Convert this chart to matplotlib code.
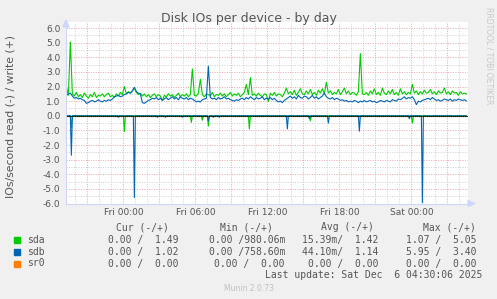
import numpy as np
import pandas as pd
import matplotlib
matplotlib.use('Agg')
import matplotlib.pyplot as plt
import matplotlib.dates as mdates
from matplotlib.ticker import MultipleLocator, FuncFormatter
from matplotlib.patches import Rectangle, Polygon

# write rates (IOs/s), one value every 10 minutes starting Thu 19:15
sda_write = [
    2.0, 1.4, 5.05, 1.5, 1.35, 1.6, 1.3, 1.45, 1.25, 1.55,
    1.35, 1.2, 1.45, 1.3, 1.6, 1.25, 1.4, 1.35, 1.5, 1.3,
    1.45, 1.55, 1.3, 1.4, 1.25, 1.5, 1.35, 1.6, 1.45, 2.0,
    1.5, 1.65, 1.55, 1.7, 1.9, 1.6, 1.45, 1.55, 1.35, 1.5,
    1.3, 1.45, 1.25, 1.4, 1.5, 1.3, 1.45, 1.35, 1.05, 1.4,
    1.3, 1.5, 1.35, 1.45, 1.25, 1.4, 1.55, 1.3, 1.45, 1.35,
    1.5, 1.3, 1.45, 3.2, 1.4, 1.35, 1.55, 2.5, 1.45, 1.3,
    1.5, 1.45, 1.35, 1.6, 1.3, 1.45, 1.4, 1.55, 1.35, 1.5,
    1.3, 1.45, 1.6, 1.35, 1.5, 1.4, 1.55, 1.3, 1.45, 1.6,
    2.15, 1.45, 2.6, 1.4, 1.5, 1.35, 1.55, 1.4, 1.3, 1.5,
    1.45, 0.98, 1.55, 1.4, 1.6, 1.35, 1.5, 1.45, 1.3, 1.55,
    1.9, 1.5, 1.65, 1.45, 1.75, 1.4, 1.6, 1.85, 1.5, 1.45,
    1.7, 1.5, 1.8, 1.45, 1.6, 1.4, 1.75, 1.55, 1.85, 1.5,
    2.3, 1.55, 1.7, 1.45, 1.6, 1.5, 1.8, 1.45, 1.65, 1.9,
    1.5, 1.7, 1.45, 1.6, 1.55, 1.4, 1.65, 4.25, 1.5, 1.45,
    1.6, 1.4, 1.7, 1.5, 1.85, 1.45, 1.6, 1.4, 1.9, 1.55,
    1.45, 1.7, 1.5, 1.8, 1.45, 1.6, 1.4, 1.85, 1.5, 1.65,
    1.45, 1.6, 1.5, 2.15, 1.55, 1.7, 1.45, 1.65, 1.5, 1.75,
    1.55, 1.6, 1.8, 1.5, 1.65, 1.45, 1.7, 1.55, 1.6, 1.9,
    1.5, 1.65, 1.45, 1.7, 1.55, 1.6, 1.4, 1.65, 1.5, 1.55,
    1.49,
]
sdb_write = [
    1.4, 1.5, 1.55, 1.35, 1.2, 1.25, 1.15, 1.2, 1.1, 1.05,
    0.85, 0.9, 1.0, 1.05, 0.95, 1.0, 1.1, 1.0, 0.95, 1.05,
    1.0, 1.1, 1.05, 1.15, 1.3, 1.35, 1.4, 1.3, 1.35, 1.45,
    1.5, 1.6, 1.55, 1.7, 1.95, 1.65, 1.55, 1.5, 0.9, 0.85,
    0.95, 1.05, 1.1, 1.2, 1.15, 1.25, 1.1, 1.2, 1.05, 1.15,
    1.25, 1.1, 1.2, 1.3, 1.15, 1.25, 1.1, 1.3, 1.2, 1.15,
    1.25, 1.1, 1.2, 1.15, 1.05, 0.95, 1.0, 0.95, 1.1, 1.15,
    1.2, 3.4, 1.25, 1.15, 1.2, 1.1, 1.25, 1.15, 1.2, 1.3,
    1.15, 1.2, 1.1, 1.05, 1.0, 1.1, 1.05, 1.15, 1.2, 1.1,
    1.25, 1.15, 1.3, 1.2, 1.1, 1.25, 1.15, 1.2, 1.3, 1.1,
    1.2, 1.15, 1.25, 1.1, 1.2, 1.05, 0.95, 1.0, 0.9, 1.05,
    1.15, 1.25, 1.35, 1.2, 1.3, 1.15, 1.4, 1.25, 1.2, 1.35,
    1.3, 1.15, 1.25, 1.4, 1.2, 1.3, 1.15, 1.25, 1.35, 1.55,
    1.3, 1.2, 1.15, 1.25, 1.1, 1.2, 1.15, 1.05, 1.1, 1.0,
    1.05, 0.95, 1.0, 0.95, 1.05, 1.0, 0.9, 1.0, 0.95, 1.05,
    0.95, 1.0, 1.05, 0.95, 1.0, 0.9, 0.95, 1.05, 1.0, 0.95,
    1.05, 1.0, 0.95, 1.1, 1.05, 1.0, 1.15, 1.1, 1.2, 1.3,
    1.15, 1.25, 1.2, 1.3, 1.1, 0.76, 1.0, 0.95, 1.05, 1.1,
    1.15, 1.2, 1.1, 1.25, 1.15, 1.05, 1.1, 1.0, 1.05, 1.15,
    1.1, 1.05, 1.15, 1.0, 1.1, 1.05, 1.15, 1.1, 1.05, 1.1,
    1.02,
]

# read rates: zero except for these spikes (hours after Fri 00:00, IOs/s)
sda_read_hours = [-4.36, 0.06, 5.7, 6.6, 7.1, 10.5, 11.0, 15.6, 23.1, 24.05, 26.5, 28.25]
sda_read_vals = [0.8, 1.07, 0.45, 0.3, 0.7, 0.9, 0.05, 0.35, 0.05, 0.5, 0.05, 0.05]
sdb_read_hours = [-4.36, -0.44, 0.9, 2.8, 3.5, 4.9, 7.1, 7.5, 8.0, 13.7, 14.3,
                  15.5, 17.1, 19.65, 23.8, 24.9, 25.7, 27.5]
sdb_read_vals = [2.7, 0.1, 5.6, 0.1, 0.1, 0.1, 0.35, 0.1, 0.1, 0.9, 0.05,
                 0.2, 0.5, 1.05, 0.2, 5.95, 0.05, 0.05]

legend_names = ['sda', 'sdb', 'sr0']
legend_colors = ['#00CC00', '#0066B3', '#FF8000']
legend_cur = ['0.00 /  1.49', '0.00 /  1.02', '0.00 /  0.00']
legend_min = ['0.00 /980.06m', '0.00 /758.60m', '0.00 /  0.00']
legend_avg = ['15.39m/  1.42', '44.10m/  1.14', '0.00 /  0.00']
legend_max = ['1.07 /  5.05', '5.95 /  3.40', '0.00 /  0.00']

W, H = 497, 299
FONT = '#555555'
fri = pd.Timestamp('2025-12-05 00:00')
start = pd.Timestamp('2025-12-04 19:15')

write_times = pd.date_range(start, periods=len(sda_write), freq='10min')
read_times = pd.date_range(start, pd.Timestamp('2025-12-06 04:35'), freq='5min')


def read_series(hours, vals):
    s = np.zeros(len(read_times))
    for h, v in zip(hours, vals):
        i = int(round((h + 4.75) * 12))
        s[i] = -v
    return s


sda_read = read_series(sda_read_hours, sda_read_vals)
sdb_read = read_series(sdb_read_hours, sdb_read_vals)


def fx(x):
    return x / W


def fy(y):
    return 1 - y / H


fig = plt.figure(figsize=(W / 100, H / 100), dpi=100, facecolor='#F0F0F0')
ax = fig.add_axes([fx(66), fy(203.5), fx(468) - fx(66), fy(21.5) - fy(203.5)])
ax.set_facecolor('white')

ax.plot(read_times, np.zeros(len(read_times)), color=legend_colors[2], lw=0.8)
ax.plot(write_times, sda_write, color=legend_colors[0], lw=0.8)
ax.plot(read_times, sda_read, color=legend_colors[0], lw=0.8)
ax.plot(write_times, sdb_write, color=legend_colors[1], lw=0.8)
ax.plot(read_times, sdb_read, color=legend_colors[1], lw=0.8)
ax.axhline(0, color='black', lw=0.8, linestyle=(0, (1.2, 0.6)))

ax.set_xlim(fri - pd.Timedelta(hours=4.78), fri + pd.Timedelta(hours=28.72))
ax.set_ylim(-6, 6.45)

ax.xaxis.set_major_locator(mdates.HourLocator(byhour=range(0, 24, 3)))
ax.xaxis.set_minor_locator(mdates.HourLocator())


def xfmt(x, pos):
    d = mdates.num2date(x)
    return d.strftime('%a %H:%M') if d.hour % 6 == 0 else ''


ax.xaxis.set_major_formatter(FuncFormatter(xfmt))
ax.yaxis.set_major_locator(MultipleLocator(1))
ax.yaxis.set_minor_locator(MultipleLocator(0.5))
ax.yaxis.set_major_formatter(FuncFormatter(lambda v, p: '%.1f' % v))

ax.grid(which='major', color='#E8A8A8', lw=0.7, linestyle=(0, (1, 1.5)))
ax.grid(which='minor', color='#D0D0D0', lw=0.7, linestyle=(0, (1, 1.5)))
ax.set_axisbelow(True)
ax.tick_params(which='both', length=0, colors=FONT, labelsize=6.5)
ax.tick_params(axis='x', pad=3)
ax.tick_params(axis='y', pad=4)
for side in ['top', 'right']:
    ax.spines[side].set_visible(False)
for side in ['left', 'bottom']:
    ax.spines[side].set_color('#CFD6F8')
    ax.spines[side].set_linewidth(0.8)

# axis arrows
fig.patches.append(Polygon([(fx(63), fy(27)), (fx(69), fy(27)), (fx(66), fy(20))],
                           closed=True, color='#CFD6F8', transform=fig.transFigure))
fig.patches.append(Polygon([(fx(468), fy(200.5)), (fx(468), fy(206.5)), (fx(475), fy(203.5))],
                           closed=True, color='#CFD6F8', transform=fig.transFigure))

fig.text(0.5, fy(18.5), 'Disk IOs per device - by day', ha='center', va='center',
         fontsize=9, color=FONT)
fig.text(fx(11), fy(116), 'IOs/second read (-) / write (+)', rotation=90,
         ha='center', va='center', fontsize=7.8, color=FONT)
fig.text(fx(488.5), fy(7), 'RRDTOOL / TOBI OETIKER', rotation=270, ha='center',
         va='top', fontsize=5.5, color='#C8C8C8')

mono = 'DejaVu Sans Mono'
lfs = 7
headers = ['Cur (-/+)', 'Min (-/+)', 'Avg (-/+)', 'Max (-/+)']
header_right = [169, 273, 374, 476]
for htxt, xr in zip(headers, header_right):
    fig.text(fx(xr), fy(227.5), htxt, ha='right', va='center', family=mono,
             fontsize=lfs, color=FONT)

row_y = [240, 252, 263.5]
col_right = [179, 285, 378, 477]
for i, name in enumerate(legend_names):
    y = row_y[i]
    fig.patches.append(Rectangle((fx(14), fy(y + 3)), fx(6), 6 / H,
                                 color=legend_colors[i], transform=fig.transFigure))
    fig.text(fx(27), fy(y), name, ha='left', va='center', family=mono,
             fontsize=lfs, color=FONT)
    cols = [legend_cur[i], legend_min[i], legend_avg[i], legend_max[i]]
    for txt, xr in zip(cols, col_right):
        fig.text(fx(xr), fy(y), txt, ha='right', va='center', family=mono,
                 fontsize=lfs, color=FONT)

fig.text(fx(482), fy(275.5), 'Last update: Sat Dec  6 04:30:06 2025', ha='right',
         va='center', family=mono, fontsize=lfs, color=FONT)
fig.text(0.5, fy(288.5), 'Munin 2.0.73', ha='center', va='center', fontsize=5.5,
         color='#C0C0C0')

fig.savefig('out.png', dpi=100, facecolor=fig.get_facecolor())
